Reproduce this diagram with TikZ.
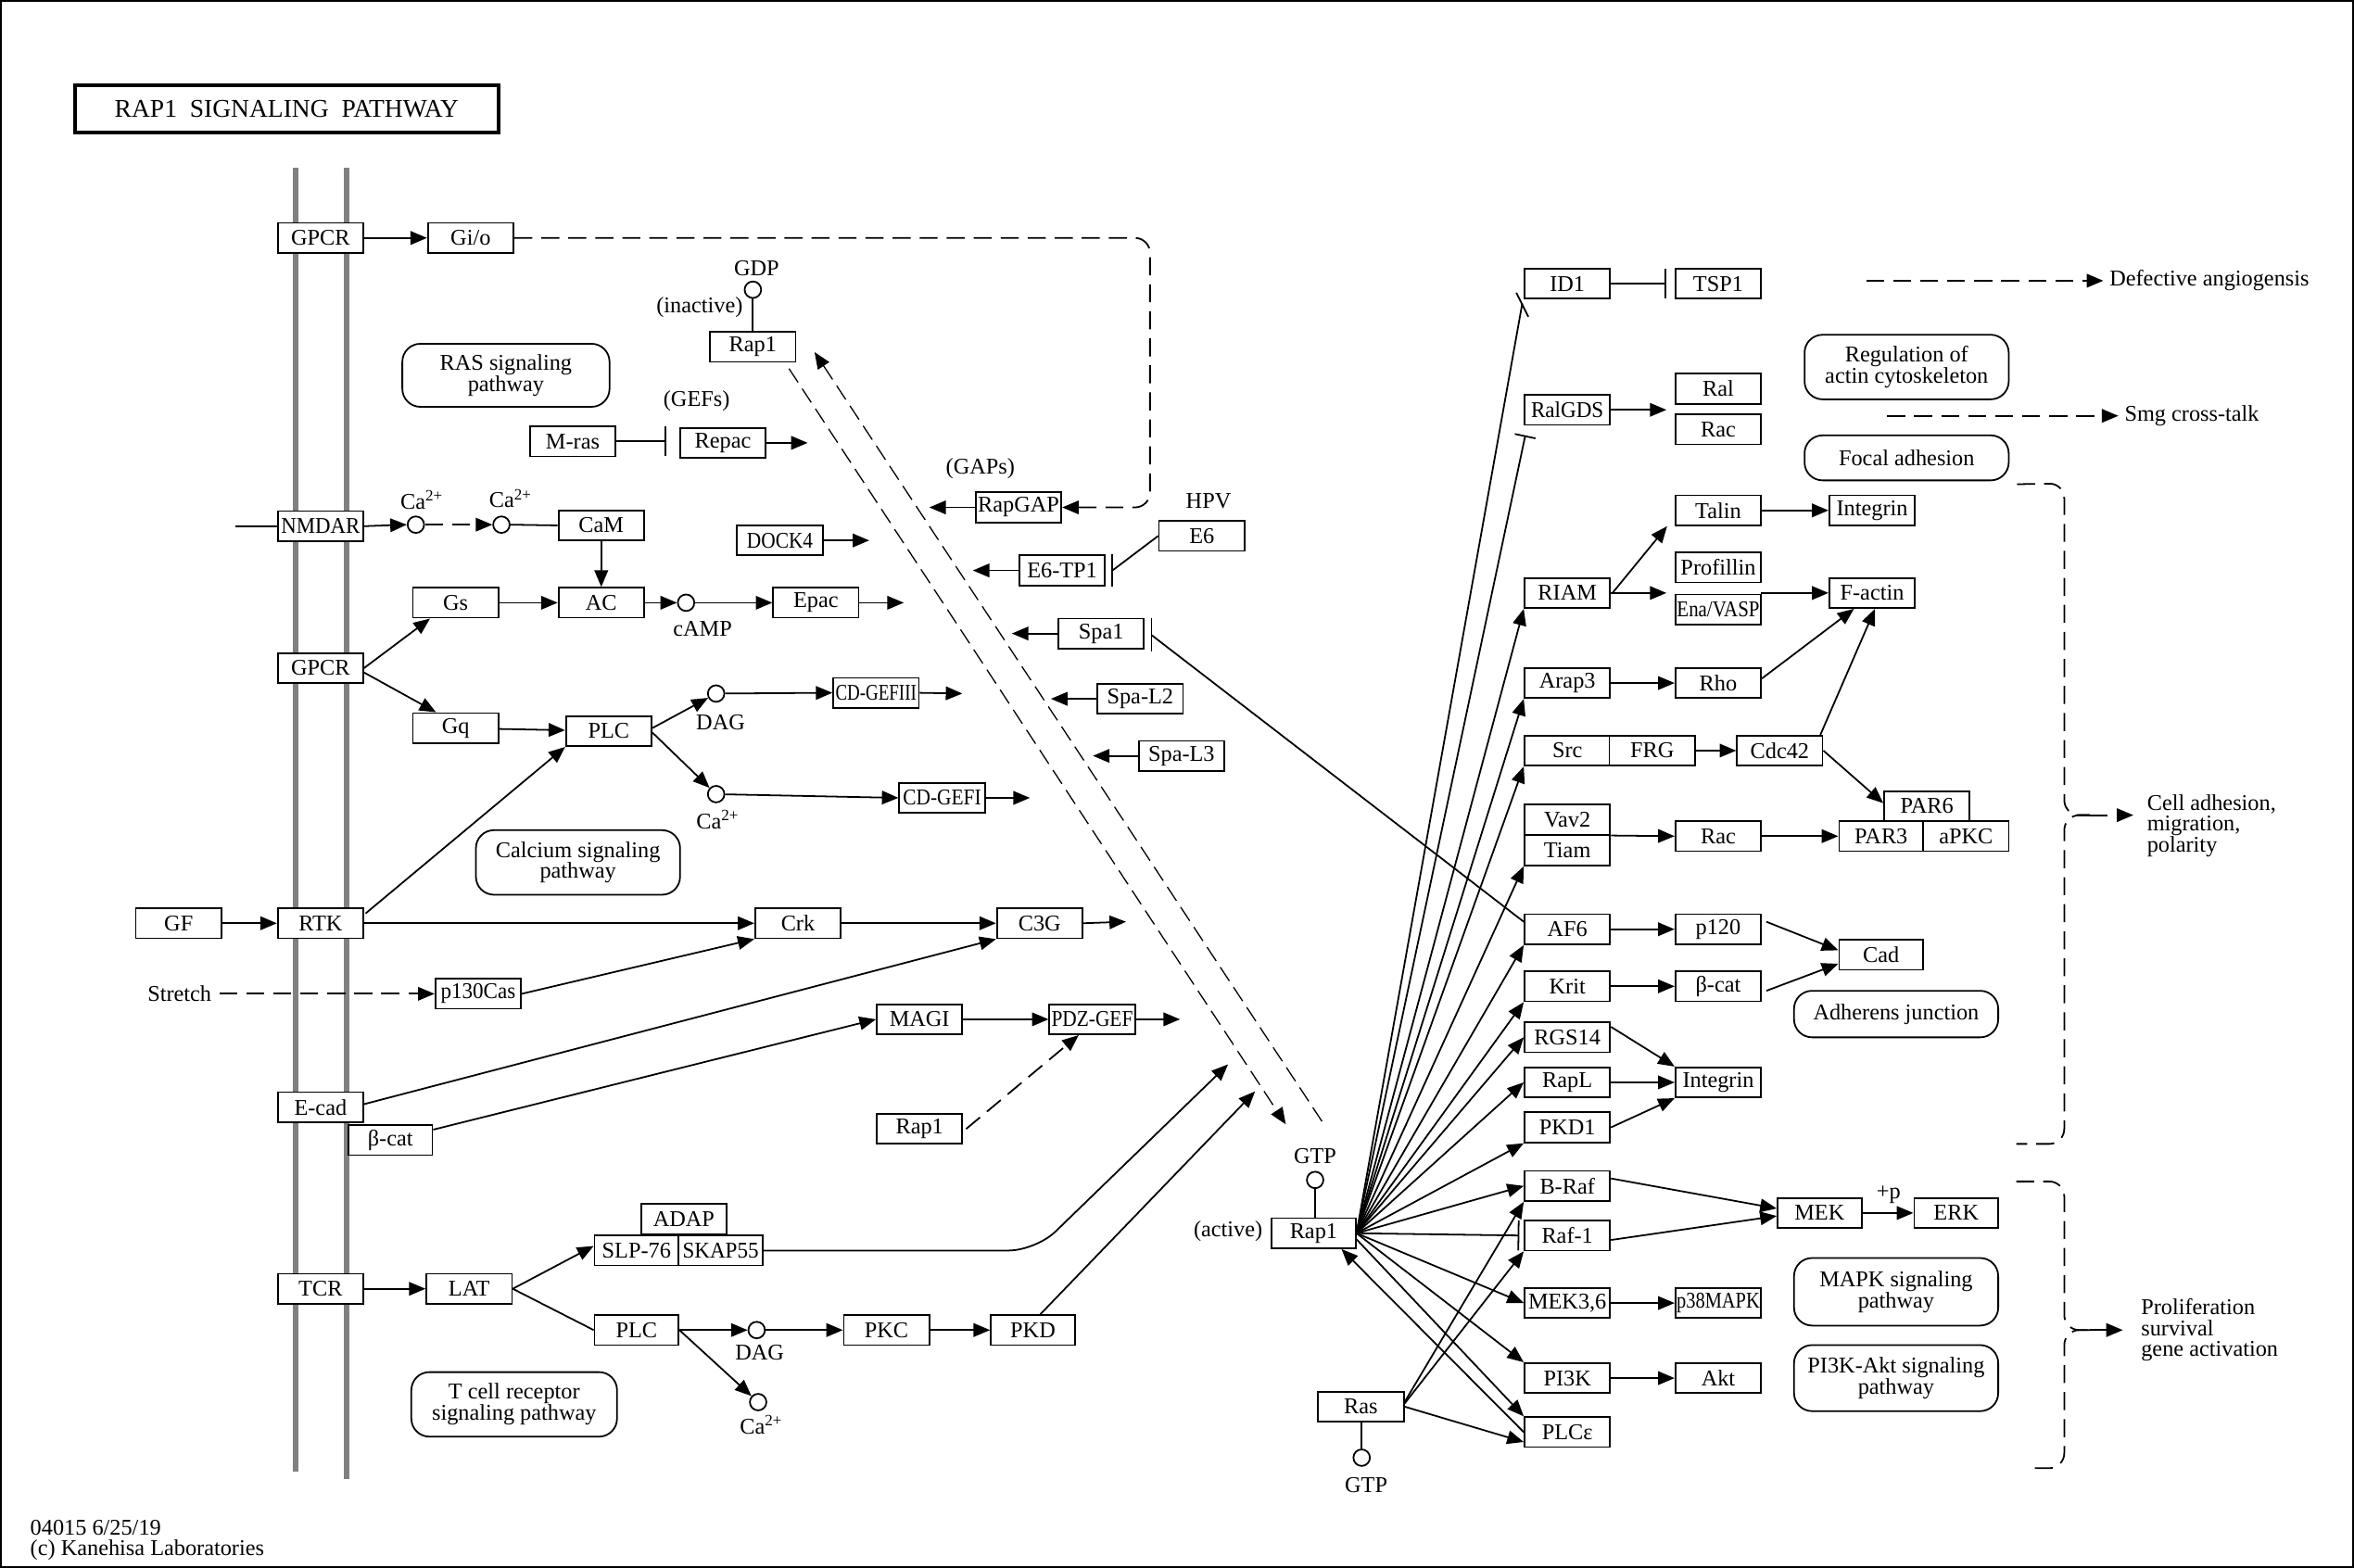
\documentclass[tikz,border=0pt]{standalone}
\usepackage{fontspec}
\setmainfont{Liberation Serif}
\usetikzlibrary{arrows.meta,calc}
\begin{document}
\begin{tikzpicture}[x=1pt,y=-1pt,
  every node/.style={font=\fontsize{15}{14}\selectfont},
  gene/.style={draw,fill=white,line width=1.1pt,minimum width=57pt,minimum height=20pt,inner sep=0pt},
  pw/.style={draw,fill=white,line width=1.1pt,rounded corners=12pt,inner sep=0pt,align=center},
  mol/.style={draw,fill=white,circle,line width=1.1pt,minimum size=11pt,inner sep=0pt},
  lbl/.style={inner sep=0pt},
  ln/.style={line width=1.1pt},
  act/.style={ln,-{Triangle[length=11pt,width=9pt]}},
  inh/.style={ln,-{Bar[width=20pt,line width=1.1pt]}},
  dsh/.style={dash pattern=on 12pt off 6pt},
  dsh2/.style={line width=0.8pt,dash pattern=on 11pt off 5pt},
  mem/.style={line width=4pt,draw={rgb,255:red,128;green,128;blue,128}},
]
\useasboundingbox (0,0) rectangle (1568,1044.5);
\draw[line width=1.5pt] (0.75,0.75) rectangle (1567.25,1043.75);

% title
\node[draw,line width=2.5pt,minimum width=282pt,minimum height=31pt,inner sep=0pt,font=\fontsize{17}{17}\selectfont] (title) at (191,72.5) {RAP1\ \ SIGNALING\ \ PATHWAY\hspace{12pt}};

% membrane
\draw[mem] (197,112) -- (197,980);
\draw[mem] (231,112) -- (231,985);

% ---------------- left nodes
\node[gene] (GPCRa) at (213.5,158.5) {GPCR};
\node[gene] (Gio) at (313.5,158.5) {Gi/o};
\node[pw,minimum width=138pt,minimum height=42pt] (rasP) at (337,250) {RAS signaling\\pathway};
\node[gene] (Mras) at (381.5,294) {M-ras};
\node[gene] (Repac) at (481.5,295) {Repac};
\node[gene] (Rapi) at (501.5,231) {Rap1};
\node[mol] (gdp) at (501.5,193) {};
\node[lbl] (gdpL) at (504,179) {GDP};
\node[lbl] (inact) at (466,205) {(inactive)};
\node[lbl] (gefs) at (464,267) {(GEFs)};
\node[gene] (RapGAP) at (678.5,338) {RapGAP};
\node[lbl] (gaps) at (653,312) {(GAPs)};
\node[lbl] (hpv) at (805,334) {HPV};
\node[gene] (E6) at (800.5,357) {E6};
\node[gene] (NMDAR) at (213.5,350.5) {\scalebox{0.94}[1]{NMDAR}};
\node[mol] (ca1) at (277,349.5) {};
\node[lbl] (ca1L) at (281,333) {Ca\textsuperscript{2+}};
\node[mol] (ca2) at (334,349.5) {};
\node[lbl] (ca2L) at (340,332) {Ca\textsuperscript{2+}};
\node[gene] (CaM) at (400.5,350) {CaM};
\node[gene] (DOCK4) at (519.5,360) {\scalebox{0.88}[1]{DOCK4}};
\node[gene] (E6TP1) at (707.5,380) {E6-TP1};
\node[gene] (Gs) at (303.5,401.5) {Gs};
\node[gene] (AC) at (400.5,401.5) {AC};
\node[mol] (camp) at (457,401.5) {};
\node[lbl] (campL) at (468,419) {cAMP};
\node[gene] (Epac) at (543.5,401.5) {Epac};
\node[gene] (Spa1) at (733.5,422) {Spa1};
\node[gene] (GPCRb) at (213.5,445) {GPCR};
\node[gene] (Gq) at (303.5,485) {Gq};
\node[gene] (PLCa) at (405.5,487) {PLC};
\node[mol] (dag1) at (477,462) {};
\node[lbl] (dag1L) at (480,481) {DAG};
\node[gene] (CDGEFIII) at (583.5,461.5) {\scalebox{0.78}[1]{CD-GEFIII}};
\node[gene] (SpaL2) at (759.5,465.5) {Spa-L2};
\node[gene] (SpaL3) at (787,503.5) {Spa-L3};
\node[mol] (ca3) at (477,529) {};
\node[lbl] (ca3L) at (478,546) {Ca\textsuperscript{2+}};
\node[gene] (CDGEFI) at (627.5,531.5) {\scalebox{0.88}[1]{CD-GEFI}};
\node[pw,minimum width=136pt,minimum height=43pt] (calP) at (385,574.5) {Calcium signaling\\pathway};
\node[gene] (GF) at (119,615) {GF};
\node[gene] (RTK) at (213.5,615) {RTK};
\node[gene] (Crk) at (531.5,615) {Crk};
\node[gene] (C3G) at (692.5,615) {C3G};
\node[gene] (p130) at (318.5,662) {\scalebox{0.95}[1]{p130Cas}};
\node[lbl,anchor=east] (stretch) at (141,662) {Stretch};
\node[gene] (MAGI) at (612.5,679) {MAGI};
\node[gene] (PDZ) at (727.5,679) {\scalebox{0.88}[1]{PDZ-GEF}};
\node[gene] (Ecad) at (213.5,737.5) {E-cad};
\node[gene,minimum width=56pt] (bcata) at (260,759.5) {β-cat};
\node[gene] (Rapx) at (612.5,752) {Rap1};
\node[gene] (ADAP) at (455.5,812) {ADAP};
\node[gene,minimum width=56pt] (SLP) at (424,833) {SLP-76};
\node[gene,minimum width=56pt] (SKAP) at (480,833) {\scalebox{0.95}[1]{SKAP55}};
\node[gene] (TCR) at (213.5,858.5) {TCR};
\node[gene] (LAT) at (312.5,858.5) {LAT};
\node[gene,minimum width=56pt] (PLCb) at (424,886) {PLC};
\node[mol] (dag2) at (504,886) {};
\node[lbl] (dag2L) at (506,901) {DAG};
\node[mol] (ca4) at (505,934) {};
\node[lbl] (ca4L) at (507,949) {Ca\textsuperscript{2+}};
\node[gene] (PKC) at (590.5,886) {PKC};
\node[gene,minimum width=56pt] (PKD) at (688,886) {PKD};
\node[pw,minimum width=137pt,minimum height=43pt] (tcrP) at (342.5,935.5) {T cell receptor\\signaling pathway};
\node[gene,minimum width=56pt] (Rapa) at (875,821.5) {Rap1};
\node[mol] (gtp1) at (876,786) {};
\node[lbl] (gtp1L) at (876,770) {GTP};
\node[lbl] (act) at (818,820) {(active)};
\node[gene] (Ras) at (906.5,937) {Ras};
\node[mol] (gtp2) at (907,971) {};
\node[lbl] (gtp2L) at (910,989) {GTP};

% ---------------- right nodes
\node[gene] (ID1) at (1044,189) {ID1};
\node[gene] (TSP1) at (1144.5,189) {TSP1};
\node[pw,minimum width=136pt,minimum height=43pt] (regP) at (1270,244.5) {Regulation of\\actin cytoskeleton};
\node[gene] (RalGDS) at (1044,273) {\scalebox{0.95}[1]{RalGDS}};
\node[gene] (Ral) at (1144.5,259) {Ral};
\node[gene] (Raca) at (1144.5,286) {Rac};
\node[pw,minimum width=136pt,minimum height=30pt] (focP) at (1270,305) {Focal adhesion};
\node[gene] (Talin) at (1144.5,340) {Talin};
\node[gene] (Inta) at (1247,340) {Integrin};
\node[gene] (Prof) at (1144.5,378) {Profillin};
\node[gene] (Ena) at (1144.5,406) {\scalebox{0.86}[1]{Ena/VASP}};
\node[gene] (RIAM) at (1044,395) {RIAM};
\node[gene] (Factin) at (1247,395) {F-actin};
\node[gene] (Arap3) at (1044,455) {Arap3};
\node[gene] (Rho) at (1144.5,455) {Rho};
\node[gene] (Src) at (1044,500) {Src};
\node[gene] (FRG) at (1100.5,500) {FRG};
\node[gene] (Cdc42) at (1185.5,500) {Cdc42};
\node[gene] (PAR6) at (1283.5,537) {PAR6};
\node[gene,minimum width=56pt] (PAR3) at (1253,557) {PAR3};
\node[gene] (aPKC) at (1309.5,557) {aPKC};
\node[gene] (Vav2) at (1044,546) {Vav2};
\node[gene] (Tiam) at (1044,566.5) {Tiam};
\node[gene] (Racb) at (1144.5,557) {Rac};
\node[gene] (AF6) at (1044,619) {AF6};
\node[gene] (p120) at (1144.5,619) {p120};
\node[gene,minimum width=56pt] (Cad) at (1253,636) {Cad};
\node[gene] (Krit) at (1044,657) {Krit};
\node[gene] (bcatb) at (1144.5,657) {β-cat};
\node[pw,minimum width=136pt,minimum height=31pt] (adhP) at (1263,675.5) {Adherens junction};
\node[gene] (RGS14) at (1044,691) {RGS14};
\node[gene] (RapL) at (1044,721) {RapL};
\node[gene] (Intb) at (1144.5,721) {Integrin};
\node[gene] (PKD1) at (1044,751) {PKD1};
\node[gene] (BRaf) at (1044,790) {B-Raf};
\node[gene] (Raf1) at (1044,823) {Raf-1};
\node[gene,minimum width=56pt] (MEK) at (1212,808) {MEK};
\node[gene,minimum width=56pt] (ERK) at (1303,808) {ERK};
\node[lbl] (plusp) at (1258,796) {+p};
\node[gene] (MEK36) at (1044,868) {MEK3,6};
\node[gene] (p38) at (1144.5,868) {\scalebox{0.84}[1]{p38MAPK}};
\node[pw,minimum width=136pt,minimum height=45pt] (mapkP) at (1263,860.5) {MAPK signaling\\pathway};
\node[gene] (PI3K) at (1044,918) {PI3K};
\node[gene] (Akt) at (1144.5,918) {Akt};
\node[pw,minimum width=136pt,minimum height=44pt] (pi3kP) at (1263,918) {PI3K-Akt signaling\\pathway};
\node[gene] (PLCe) at (1044,954) {PLCε};

% outcome texts
\node[lbl,anchor=west] (defang) at (1405,187) {Defective angiogensis};
\node[lbl,anchor=west] (smg) at (1415,277) {Smg cross-talk};
\node[lbl,anchor=west,align=left] (celladh) at (1430,550) {Cell adhesion,\\migration,\\polarity};
\node[lbl,anchor=west,align=left] (prolif) at (1426,886) {Proliferation\\survival\\gene activation};
\node[lbl,anchor=west,align=left] (foot) at (20,1026) {04015 6/25/19\\(c) Kanehisa Laboratories};

% free ends
\coordinate (repacE) at (538,295);
\coordinate (nmdarIn) at (157,350.5);
\coordinate (epacE) at (602,401.5);
\coordinate (dock4E) at (579,360);
\coordinate (rapgapE) at (619,338);
\coordinate (e6tp1E) at (648,380);
\coordinate (spa1E) at (674,422);
\coordinate (spal2E) at (700,465.5);
\coordinate (spal3E) at (728,503.5);
\coordinate (cdgefiiiE) at (641,462);
\coordinate (cdgefiE) at (686,531.5);
\coordinate (c3gE) at (750,614);
\coordinate (pdzE) at (786,679);
\coordinate (skapE) at (818,709);
\coordinate (pkdE) at (836,727);
\coordinate (ralE) at (1110,273);
\coordinate (profE) at (1110,395);
\coordinate (defS) at (1243,187);
\coordinate (smgS) at (1257,277);

% ---------------- left connectors
\draw[act] (GPCRa) -- (Gio);
\draw[act,dsh,rounded corners=10pt] (Gio.east) -- (766,158.5) -- (766,338) -- (RapGAP.east);
\draw[ln] (gdp.south) -- (gdp.south |- Rapi.north);
\draw[inh] (Mras.east) -- (444,294);
\draw[act] (Repac.east) -- (repacE);
\draw[ln] (nmdarIn) -- (NMDAR.west);
\draw[act] (NMDAR.east) -- (ca1.west);
\draw[act,dsh] (ca1.east) -- (ca2.west);
\draw[ln] (ca2.east) -- (CaM.west);
\draw[act] (CaM) -- (AC);
\draw[act] (Gs) -- (AC);
\draw[act] (AC) -- (camp);
\draw[act] (camp) -- (Epac);
\draw[act] (Epac.east) -- (epacE);
\draw[act] (DOCK4.east) -- (dock4E);
\draw[act] (RapGAP.west) -- (rapgapE);
\draw[act] (E6TP1.west) -- (e6tp1E);
\coordinate (e6bar) at (741,380);
\draw[ln] (E6.west) -- (e6bar);
\draw[ln] (741,369) -- (741,391);
\draw[act] (Spa1.west) -- (spa1E);
\coordinate (spa1bar) at (767,423);
\draw[ln] ($(AF6.west)+(0,-5)$) -- (spa1bar);
\draw[ln] (767,412) -- (767,434);
\draw[act] (SpaL2.west) -- (spal2E);
\draw[act] (SpaL3.west) -- (spal3E);
\draw[act] (GPCRb.east) -- ($(Gs.south west)+(12,0)$);
\draw[act] ($(GPCRb.east)+(0,3)$) -- ($(Gq.north west)+(16,0)$);
\draw[act] (Gq) -- (PLCa);
\draw[act] ($(RTK.north east)+(1,4)$) -- (PLCa.south west);
\draw[act] ($(PLCa.east)+(0,-2)$) -- (dag1);
\draw[act] ($(PLCa.east)+(0,1)$) -- (ca3);
\draw[act] (dag1) -- (CDGEFIII.west);
\draw[act] (CDGEFIII.east) -- (cdgefiiiE);
\draw[act] (ca3) -- (CDGEFI.west);
\draw[act] (CDGEFI.east) -- (cdgefiE);
\draw[act] (GF) -- (RTK);
\draw[act] (RTK) -- (Crk);
\draw[act] (Crk) -- (C3G);
\draw[act] (C3G.east) -- (c3gE);
\draw[act,dsh] ($(stretch.east)+(5,0)$) -- (p130.west);
\draw[act] (p130.east) -- (Crk.south west);
\draw[act] ($(Ecad.east)+(0,-2)$) -- (C3G.south west);
\draw[act] ($(bcata.east)+(0,-7)$) -- (MAGI.west);
\draw[act] (MAGI) -- (PDZ);
\draw[act] (PDZ.east) -- (pdzE);
\draw[act,dsh] ($(Rapx.east)+(2,0)$) -- ($(PDZ.south)+(-9,0)$);
\draw[act] (TCR) -- (LAT);
\draw[act] (LAT.east) -- ($(SLP.west)+(0,-3)$);
\draw[ln] (LAT.east) -- (PLCb.west);
\draw[act,rounded corners=18pt] (SKAP.east) -- (690,833) -- (skapE);
\draw[act] (PLCb.east) -- (dag2);
\draw[act] (dag2) -- (PKC);
\draw[act] (PKC) -- (PKD);
\draw[act] ($(PKD.north)+(5,0)$) -- (pkdE);
\draw[act] (PLCb.east) -- (ca4);

% Rap1 cycle
\draw[act,dsh2] ($(Rapi.south east)+(-5,4)$) -- ($(Rapa.north west)+(10,-62)$);
\draw[act,dsh2] ($(Rapa.north east)+(-23,-64)$) -- ($(Rapi.south east)+(12,-7)$);
\draw[ln] (gtp1.south) -- (gtp1.south |- Rapa.north);
\draw[ln] (gtp2.north) -- (gtp2.north |- Ras.south);

% ---------------- Rap1 hub
\draw[ln] (Rapa.east) -- (1014,202);
\draw[ln] (1010,195) -- (1018,211);
\draw[ln,-{Bar[width=14pt,line width=1.1pt]}] (Rapa.east) -- (1016,290);
\draw[act] (Rapa.east) -- (RIAM.south west);
\draw[act] (Rapa.east) -- (Arap3.south west);
\draw[act] (Rapa.east) -- (Src.south west);
\draw[act] (Rapa.east) -- (Tiam.south west);
\draw[act] (Rapa.east) -- (AF6.south west);
\draw[act] (Rapa.east) -- (Krit.south west);
\draw[act] (Rapa.east) -- (RGS14.west);
\draw[act] (Rapa.east) -- (RapL.west);
\draw[act] (Rapa.east) -- (PKD1.south west);
\draw[act] (Rapa.east) -- (BRaf.west);
\draw[inh] (Rapa.east) -- (1012,823);
\draw[act] (Rapa.east) -- (MEK36.west);
\draw[act] (Rapa.east) -- (PI3K.north west);
\draw[act] ($(Rapa.east)+(0,4)$) -- (PLCe.north west);
\draw[act] (PLCe.west) -- ($(Rapa.south east)+(-10,0)$);
\draw[act] ($(Ras.east)+(0,-3)$) -- (BRaf.south west);
\draw[act] ($(Ras.east)+(0,-2)$) -- (Raf1.south west);
\draw[act] (Ras.east) -- ($(PLCe.south west)+(0,-4)$);

% ---------------- right connectors
\draw[inh] (ID1.east) -- (1110,189);
\draw[act] (RalGDS.east) -- (ralE);
\draw[act] ($(RIAM.east)+(1,0)$) -- ($(Talin.south west)+(-5,0)$);
\draw[act] (RIAM.east) -- (profE);
\draw[act] (Talin) -- (Inta);
\draw[act] (1173,395) -- (Factin.west);
\draw[act] ($(Rho.east)+(0,-3)$) -- ($(Factin.south west)+(17,0)$);
\draw[act] ($(Cdc42.north east)+(-2,0)$) -- ($(Factin.south west)+(31,0)$);
\draw[act] (Arap3) -- (Rho);
\draw[act] (FRG) -- (Cdc42);
\draw[act] (Cdc42.east) -- ($(PAR6.west)+(0,-2)$);
\draw[act] (Vav2.south east) -- (Racb.west);
\draw[act] (Racb) -- (PAR3);
\draw[act] (AF6) -- (p120);
\draw[act] ($(p120.east)+(3,-5)$) -- ($(Cad.west)+(0,-3)$);
\draw[act] (Krit) -- (bcatb);
\draw[act] ($(bcatb.east)+(3,3)$) -- ($(Cad.west)+(0,6)$);
\draw[act] ($(RGS14.east)+(0,-7)$) -- (Intb.north west);
\draw[act] (RapL) -- (Intb);
\draw[act] (PKD1.east) -- (Intb.south west);
\draw[act] ($(BRaf.east)+(0,-5)$) -- ($(MEK.west)+(0,-3)$);
\draw[act] ($(Raf1.east)+(0,3)$) -- ($(MEK.west)+(0,2)$);
\draw[act] (MEK) -- (ERK);
\draw[act] (MEK36) -- (p38);
\draw[act] (PI3K) -- (Akt);

\draw[act,dsh] (defS) -- ($(defang.west)+(-4,0)$);
\draw[act,dsh] (smgS) -- ($(smg.west)+(-4,0)$);

% braces
\draw[ln,dsh,rounded corners=10pt] ($(focP.south east)+(5,2)$) -- (1375,322) -- (1375,543) -- (1392,543);
\draw[ln,dsh,rounded corners=10pt] (1392,543) -- (1375,543) -- (1375,762) -- (1343,762);
\draw[act,dsh] (1392,543) -- ($(celladh.west)+(-9,-7)$);
\draw[ln,dsh,rounded corners=10pt] (1343,787) -- (1375,787) -- (1375,886) -- (1392,886);
\draw[ln,dsh,rounded corners=10pt] (1392,886) -- (1375,886) -- (1375,978) -- (1350,978);
\draw[act,dsh] (1392,886) -- ($(prolif.west)+(-12,0)$);
\end{tikzpicture}
\end{document}
